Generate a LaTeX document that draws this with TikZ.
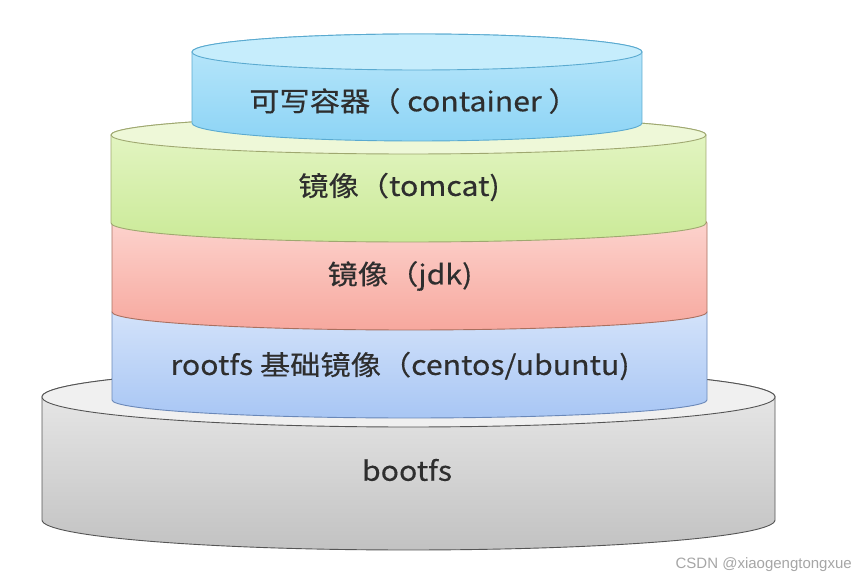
\documentclass[tikz,border=0pt]{standalone}
\usepackage{fontspec}
\setmainfont{Noto Sans CJK SC}[FakeBold=0.4, FakeStretch=1.12]
\newfontfamily\wmfont{Liberation Sans}
\definecolor{txt}{HTML}{2E2E2E}
\definecolor{cyanT}{HTML}{C6EDFC}\definecolor{cyanA}{HTML}{BCE8FB}\definecolor{cyanB}{HTML}{8DD4F5}\definecolor{cyanL}{HTML}{5AAAD0}
\definecolor{grnT}{HTML}{EEF8D8}\definecolor{grnA}{HTML}{E6F6C8}\definecolor{grnB}{HTML}{CBEA98}\definecolor{grnL}{HTML}{9FA870}
\definecolor{redA}{HTML}{FDD9D4}\definecolor{redB}{HTML}{F7A89E}\definecolor{redL}{HTML}{A87060}
\definecolor{bluA}{HTML}{DAE7FB}\definecolor{bluB}{HTML}{A8C6F4}\definecolor{bluL}{HTML}{6A88B8}
\definecolor{gryT}{HTML}{F0F0F0}\definecolor{gryA}{HTML}{ECECEC}\definecolor{gryB}{HTML}{C2C2C2}\definecolor{gryL}{HTML}{555555}
\tikzset{
  lbl/.style={font=\fontsize{27}{31}\selectfont, text=txt, inner sep=0pt},
  edge/.style={line width=0.9pt}
}
\begin{document}
\begin{tikzpicture}[x=1pt,y=1pt]
\useasboundingbox[fill=white] (0,0) rectangle (856,580);
% bootfs
\path[edge, draw=gryL, top color=gryA, bottom color=gryB]
  (42,183) -- (42,60) arc[start angle=180, end angle=360, x radius=366.5, y radius=30]
  -- (775,183) arc[start angle=0, end angle=180, x radius=366.5, y radius=30] -- cycle;
\path[edge, draw=gryL, fill=gryT] (408.5,183) ellipse[x radius=366.5, y radius=30];
% rootfs (blue)
\path[edge, draw=bluL, top color=bluA, bottom color=bluB]
  (112,268) -- (112,180) arc[start angle=180, end angle=360, x radius=297.5, y radius=18]
  -- (707,268) arc[start angle=0, end angle=180, x radius=297.5, y radius=18] -- cycle;
% jdk (red)
\path[edge, draw=redL, top color=redA, bottom color=redB]
  (112,357) -- (112,268) arc[start angle=180, end angle=360, x radius=297.5, y radius=18]
  -- (707,357) arc[start angle=0, end angle=180, x radius=297.5, y radius=18] -- cycle;
% tomcat (green)
\path[edge, draw=grnL, top color=grnA, bottom color=grnB]
  (111,445) -- (111,357) arc[start angle=180, end angle=360, x radius=297.5, y radius=19]
  -- (706,445) arc[start angle=0, end angle=180, x radius=297.5, y radius=19] -- cycle;
\path[edge, draw=grnL, fill=grnT] (408.5,445) ellipse[x radius=297.5, y radius=19];
% container (cyan)
\path[edge, draw=cyanL, top color=cyanA, bottom color=cyanB]
  (192,528) -- (192,457) arc[start angle=180, end angle=360, x radius=225, y radius=18]
  -- (642,528) arc[start angle=0, end angle=180, x radius=225, y radius=18] -- cycle;
\path[edge, draw=cyanL, fill=cyanT] (417,528) ellipse[x radius=225, y radius=18];
% labels
\node[lbl] (container) at (414,479) {可写容器（ container ）};
\node[lbl] (tomcat) at (399,393) {镜像（tomcat)};
\node[lbl] (jdk) at (400,304) {镜像（jdk)};
\node[lbl] (rootfs) at (400,214) {rootfs 基础镜像（centos/ubuntu)};
\node[lbl] (bootfs) at (407,110) {bootfs};
\node[font=\wmfont\fontsize{15}{17}\selectfont, text=black!35, anchor=east, inner sep=0pt] (wm) at (852,15) {CSDN @xiaogengtongxue};
\end{tikzpicture}
\end{document}
